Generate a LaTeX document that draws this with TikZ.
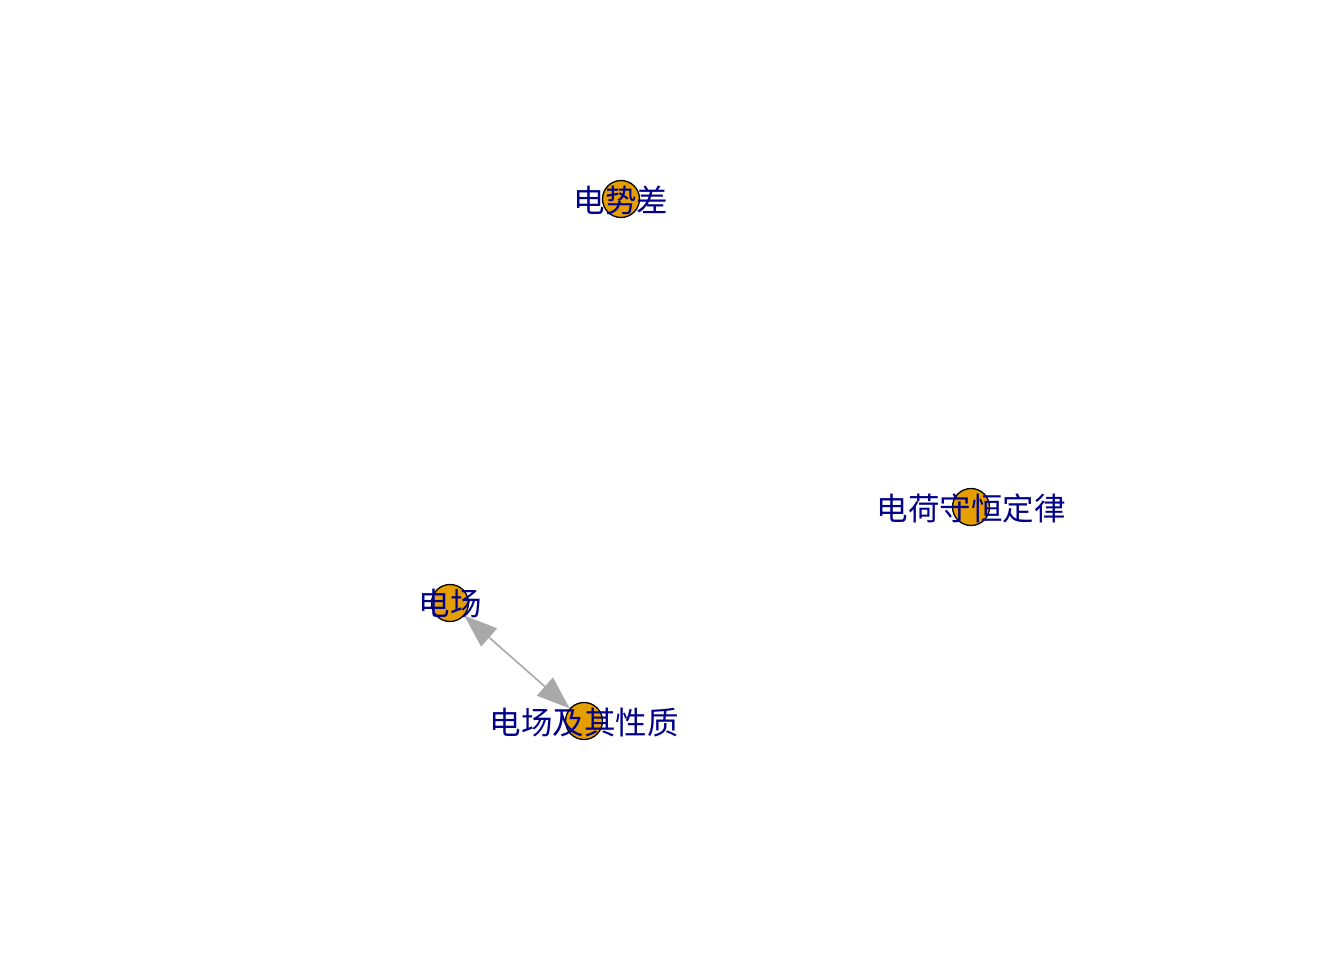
\documentclass[tikz,border=0pt]{standalone}
\usepackage{fontspec}
\newfontfamily\cjk{Noto Sans CJK SC}
\usetikzlibrary{arrows.meta}
\definecolor{vfill}{HTML}{E69F00}
\definecolor{lblue}{RGB}{0,0,139}
\definecolor{egray}{RGB}{169,169,169}
\tikzset{
  vert/.style={circle, draw=black, line width=1.3pt, fill=vfill, minimum size=37pt, inner sep=0pt},
  lbl/.style={text=lblue, font=\cjk\fontsize{31.5pt}{31.5pt}\selectfont, inner sep=0pt},
  edge/.style={draw=egray, line width=1.6pt, {Triangle[length=33pt,width=24pt]}-{Triangle[length=33pt,width=24pt]}}
}
\begin{document}
\begin{tikzpicture}[x=1pt,y=-1pt]
\useasboundingbox[fill=white] (0,0) rectangle (1344,960);
\node[vert] (v1) at (621,199) {};
\node[vert] (v2) at (971,507) {};
\node[vert] (v3) at (450,603) {};
\node[vert] (v4) at (584,721) {};
\draw[edge] (v3) -- (v4);
\node[lbl] (l1) at (621,201) {电势差};
\node[lbl] (l2) at (971,508) {电荷守恒定律};
\node[lbl] (l3) at (450,604) {电场};
\node[lbl] (l4) at (584,723) {电场及其性质};
\end{tikzpicture}
\end{document}
